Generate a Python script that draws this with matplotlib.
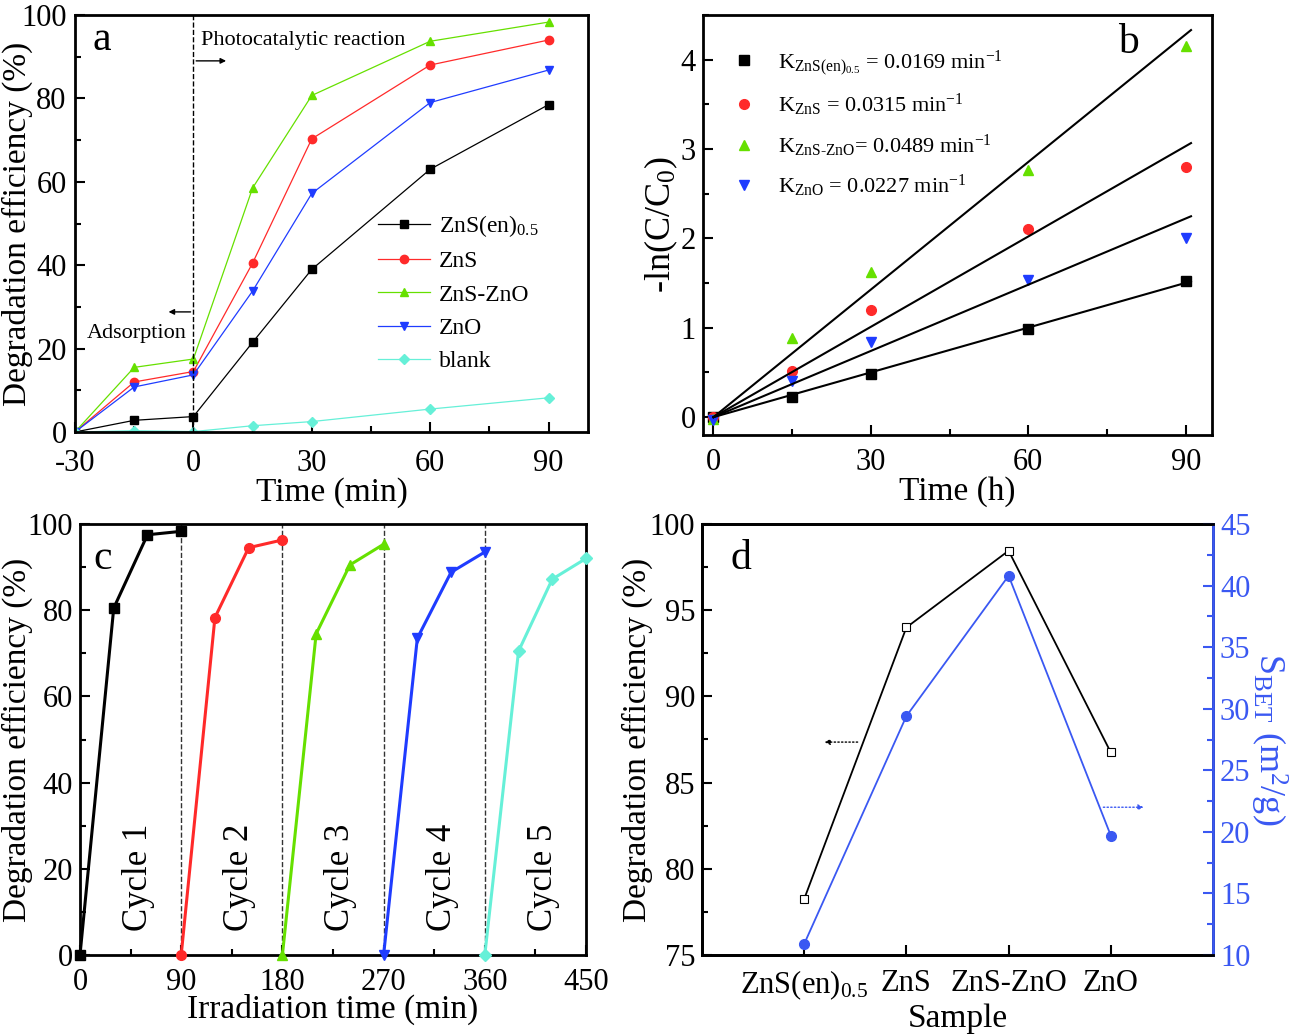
import numpy as np
import matplotlib
matplotlib.use('Agg')
import matplotlib.pyplot as plt
from matplotlib.ticker import MultipleLocator, FixedLocator

plt.rcParams['font.family'] = ['Liberation Serif', 'DejaVu Serif']
plt.rcParams['mathtext.fontset'] = 'custom'
plt.rcParams['mathtext.rm'] = 'Liberation Serif'
plt.rcParams['mathtext.it'] = 'Liberation Serif:italic'
plt.rcParams['mathtext.bf'] = 'Liberation Serif:bold'
plt.rcParams['axes.unicode_minus'] = False

# ---------------- data ----------------
# panel a
time_a = [-30, -15, 0, 15, 30, 60, 90]
a_znsen = [0, 2.8, 3.7, 21.5, 39.0, 63.0, 78.5]
a_zns = [0, 12.0, 14.5, 40.5, 70.3, 88.0, 94.0]
a_znszno = [0, 15.5, 17.5, 58.5, 80.7, 93.7, 98.3]
a_zno = [0, 10.8, 13.7, 33.8, 57.2, 79.0, 86.8]
a_blank = [0, 0.3, 0.1, 1.5, 2.5, 5.5, 8.2]
labels_a = ['ZnS(en)$_{0.5}$', 'ZnS', 'ZnS-ZnO', 'ZnO', 'blank']

# panel b
time_b = [0, 15, 30, 60, 90]
b_znsen = [0, 0.23, 0.48, 0.99, 1.52]
b_zns = [0, 0.52, 1.20, 2.10, 2.80]
b_znszno = [-0.02, 0.88, 1.62, 2.76, 4.15]
b_zno = [-0.03, 0.40, 0.84, 1.53, 2.01]
b_fit_slope = [0.0167, 0.0337, 0.0476, 0.0247]
b_fit_end = 91
labels_b = [r'K$_{\mathrm{ZnS(en)}_{0.5}}$ = 0.0169 min$^{\mathrm{-1}}$',
            r'K$_{\mathrm{ZnS}}$ = 0.0315 min$^{\mathrm{-1}}$',
            r'K$_{\mathrm{ZnS\text{-}ZnO}}$= 0.0489 min$^{\mathrm{-1}}$',
            r'K$_{\mathrm{ZnO}}$ = 0.0227 min$^{\mathrm{-1}}$']

# panel c
cycle_times = [[0, 30, 60, 90], [90, 120, 150, 180], [180, 210, 240, 270],
               [270, 300, 330, 360], [360, 390, 420, 450]]
cycle_vals = [[0, 80.5, 97.5, 98.3], [0, 78.3, 94.5, 96.3], [0, 74.5, 90.5, 95.3],
              [0, 73.5, 88.8, 93.5], [0, 70.5, 87.2, 92.0]]
cycle_labels = ['Cycle 1', 'Cycle 2', 'Cycle 3', 'Cycle 4', 'Cycle 5']
cycle_bounds = [90, 180, 270, 360]

# panel d
samples = ['ZnS(en)$_{0.5}$', 'ZnS', 'ZnS-ZnO', 'ZnO']
d_degr = [78.25, 94.0, 98.45, 86.75]
d_sbet = [10.9, 29.4, 40.8, 19.7]

# ---------------- styles ----------------
C_BLACK = '#000000'
C_RED = '#ff2a2a'
C_GREEN = '#66e000'
C_BLUE = '#1f3cff'
C_CYAN = '#66f0d8'
C_DBLUE = '#3a58f2'
colors = [C_BLACK, C_RED, C_GREEN, C_BLUE, C_CYAN]
markers = ['s', 'o', '^', 'v', 'D']

TICK_FS = 22
LABEL_FS = 24


def style_axes(ax):
    for sp in ax.spines.values():
        sp.set_linewidth(2.0)
    ax.tick_params(which='both', direction='in', top=False, right=False,
                   labelsize=TICK_FS, width=1.5)
    ax.tick_params(which='major', length=7)
    ax.tick_params(which='minor', length=4)
    ax.tick_params(axis='x', which='both', pad=9)
    ax.tick_params(axis='y', which='both', pad=5)


fig = plt.figure(figsize=(12.99, 10.36), dpi=100)
W, H = 1299, 1036


def add_ax(l, r, t, b):
    return fig.add_axes([l / W, 1 - b / H, (r - l) / W, (b - t) / H])


def set_ylabel_px(ax, text, xpx, left, width, **kw):
    ax.set_ylabel(text, **kw)
    ax.yaxis.set_label_coords((xpx - left) / width, 0.5)

# ---------------- panel a ----------------
ax = add_ax(75, 588, 15, 432)
series_a = [a_znsen, a_zns, a_znszno, a_zno, a_blank]
for vals, c, m, lab in zip(series_a, colors, markers, labels_a):
    ax.plot(time_a, vals, color=c, marker=m, lw=0.9,
            ms=6 if m != 'D' else 5, label=lab)
ax.axvline(0, color='black', ls='--', lw=1.0)
ax.set_xlim(-30, 100)
ax.set_ylim(0, 100)
ax.xaxis.set_major_locator(FixedLocator([-30, 0, 30, 60, 90]))
ax.xaxis.set_minor_locator(MultipleLocator(15))
ax.yaxis.set_major_locator(MultipleLocator(20))
ax.yaxis.set_minor_locator(MultipleLocator(10))
style_axes(ax)
ax.tick_params(axis='y', pad=6)
ax.tick_params(axis='x', which='both', pad=12)
ax.set_xlabel('Time (min)', fontsize=LABEL_FS, labelpad=0)
set_ylabel_px(ax, 'Degradation efficiency (%)', 33, 75, 513, fontsize=LABEL_FS)
ax.text(-25.5, 94, 'a', fontsize=30, va='center', ha='left')
ax.text(2, 94, 'Photocatalytic reaction', fontsize=16, va='center', ha='left')
ax.annotate('', xy=(9, 89), xytext=(0, 89),
            arrowprops=dict(arrowstyle='-|>', color='black', lw=1.0,
                            mutation_scale=8))
ax.text(-27, 23.7, 'Adsorption', fontsize=16, va='center', ha='left')
ax.annotate('', xy=(-7, 28.8), xytext=(0, 28.8),
            arrowprops=dict(arrowstyle='-|>', color='black', lw=1.0,
                            mutation_scale=8))
ax.legend(loc='upper left', bbox_to_anchor=(0.59, 0.525), frameon=False,
          fontsize=17, handlelength=2.2, labelspacing=0.5, handletextpad=0.4,
          borderaxespad=0, borderpad=0)

# ---------------- panel b ----------------
ax = add_ax(703, 1212, 15, 435)
series_b = [b_znsen, b_zns, b_znszno, b_zno]
for vals, c, m, lab in zip(series_b, colors[:4], markers[:4], labels_b):
    ax.plot(time_b, vals, ls='none', color=c, marker=m, ms=7, label=lab)
xf = np.array([0, b_fit_end])
for k in b_fit_slope:
    ax.plot(xf, k * xf, color='black', lw=1.5)
ax.set_xlim(-2, 95)
ax.set_ylim(-0.2, 4.5)
ax.xaxis.set_major_locator(MultipleLocator(30))
ax.xaxis.set_minor_locator(MultipleLocator(15))
ax.yaxis.set_major_locator(MultipleLocator(1))
ax.yaxis.set_minor_locator(MultipleLocator(0.5))
style_axes(ax)
ax.set_xlabel('Time (h)', fontsize=LABEL_FS, labelpad=0)
set_ylabel_px(ax, '-ln(C/C$_{\\mathrm{0}}$)', 680, 703, 509, fontsize=26)
ax.text(79, 4.19, 'b', fontsize=30, va='center', ha='center')
ax.legend(loc='upper left', bbox_to_anchor=(0.02, 0.97), frameon=False,
          fontsize=16, handlelength=1.0, labelspacing=0.65, handletextpad=1.0,
          markerscale=1.0)

# ---------------- panel c ----------------
ax = add_ax(80, 586, 524, 955)
for xs, ys, c, m in zip(cycle_times, cycle_vals, colors, markers):
    ax.plot(xs, ys, color=c, marker=m, lw=2.2, ms=7 if m != 'D' else 6,
            clip_on=False, zorder=3)
for xb in cycle_bounds:
    ax.axvline(xb, color='#333333', ls='--', lw=1.0, zorder=1)
for xs, lab in zip(cycle_times, cycle_labels):
    ax.text(np.mean(xs) + 7, 18, lab, rotation=90, fontsize=25,
            ha='center', va='center')
ax.set_xlim(0, 450)
ax.set_ylim(0, 100)
ax.xaxis.set_major_locator(MultipleLocator(90))
ax.xaxis.set_minor_locator(MultipleLocator(45))
ax.yaxis.set_major_locator(MultipleLocator(20))
ax.yaxis.set_minor_locator(MultipleLocator(10))
style_axes(ax)
ax.set_xlabel('Irradiation time (min)', fontsize=LABEL_FS, labelpad=-2)
set_ylabel_px(ax, 'Degradation efficiency (%)', 33, 80, 506, fontsize=LABEL_FS)
ax.text(12, 92, 'c', fontsize=30, va='center', ha='left')

# ---------------- panel d ----------------
ax = add_ax(702, 1213, 524, 955)
xpos = np.arange(len(samples))
ax.plot(xpos, d_degr, color='black', marker='s', mfc='white', mec='black',
        ms=6, lw=1.3, mew=0.8)
ax.set_xlim(-1, 4)
ax.set_ylim(75, 100)
ax.set_xticks(xpos)
ax.set_xticklabels(samples)
ax.yaxis.set_major_locator(MultipleLocator(5))
ax.yaxis.set_minor_locator(MultipleLocator(2.5))
style_axes(ax)
ax.tick_params(axis='x', pad=10)
ax.set_xlabel('Sample', fontsize=LABEL_FS, labelpad=1)
set_ylabel_px(ax, 'Degradation efficiency (%)', 653, 702, 511, fontsize=LABEL_FS)
ax.text(-0.72, 98, 'd', fontsize=30, va='center', ha='left')
ax.annotate('', xy=(0.17, 87.35), xytext=(0.55, 87.35),
            arrowprops=dict(arrowstyle='-|>', color='black', lw=1.0,
                            ls=':', mutation_scale=8))
ax2 = ax.twinx()
ax2.plot(xpos, d_sbet, color=C_DBLUE, marker='o', ms=7, lw=1.3)
ax2.set_ylim(10, 45)
ax2.yaxis.set_major_locator(MultipleLocator(5))
ax2.yaxis.set_minor_locator(MultipleLocator(2.5))
for sp in ax2.spines.values():
    sp.set_linewidth(2.0)
ax2.spines['right'].set_color(C_DBLUE)
ax2.tick_params(which='both', direction='in', labelsize=TICK_FS, width=1.5,
                colors=C_DBLUE, pad=5)
ax2.tick_params(which='major', length=7)
ax2.tick_params(which='minor', length=4)
ax2.set_ylabel('S$_{\\mathrm{BET}}$ (m$^{\\mathrm{2}}$/g)', fontsize=LABEL_FS + 2,
               color=C_DBLUE, rotation=-90, labelpad=28)
ax2.annotate('', xy=(3.35, 22), xytext=(2.9, 22),
             arrowprops=dict(arrowstyle='-|>', color=C_DBLUE, lw=1.0,
                             ls=':', mutation_scale=8))

fig.savefig('out.png', dpi=100)
